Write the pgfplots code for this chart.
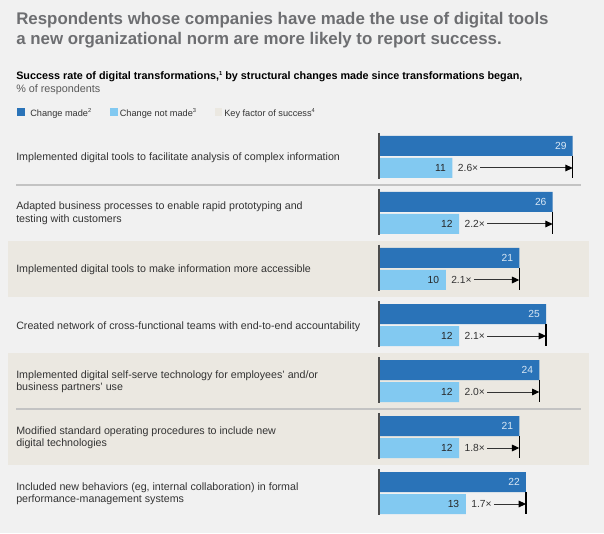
\documentclass[border=0pt]{standalone}
\usepackage{fontspec}
\setmainfont{Liberation Sans}
\usepackage{pgfplots}
\pgfplotsset{compat=1.18}
\usetikzlibrary{arrows.meta}
\definecolor{darkbar}{HTML}{2A73B8}
\definecolor{lightbar}{HTML}{82C9F1}
\definecolor{beige}{HTML}{EBE8E1}
\definecolor{bg}{HTML}{F1F1F1}
\definecolor{titlegray}{HTML}{6D6E71}
\definecolor{textgray}{HTML}{333333}
\definecolor{sepgray}{HTML}{C3C3C3}
\definecolor{valwhite}{HTML}{D9E8F5}
\newcommand\titlefont{\fontsize{12.65pt}{14pt}\selectfont\bfseries}
\newcommand\subfont{\fontsize{8.1pt}{10pt}\selectfont}
\newcommand\catfont{\fontsize{8pt}{10pt}\selectfont}
\newcommand\legfont{\fontsize{6.9pt}{8pt}\selectfont}
\newcommand\valfont{\fontsize{7.7pt}{9pt}\selectfont}
\newcommand\smallsup[1]{\raisebox{0.75ex}{\fontsize{4.3pt}{5pt}\selectfont #1}}
% #1 dark value, #2 light value, #3 light centre y, #4 ratio, #5 end-line top, #6 end-line bottom, #7 base top, #8 base bottom
\newcommand\rowann[8]{%
  \node[anchor=west, inner sep=0pt, font=\valfont, text=textgray] (rt#3) at ([xshift=3.9pt]axis cs:#2,#3) {#4};
  \draw[textgray, line width=0.75pt, -{Triangle[length=5.5pt,width=5pt,color=black]}] ([xshift=1.5pt]rt#3.east) -- (axis cs:#1,#3);
  \draw[black, line width=0.8pt] (axis cs:#1,#5) -- (axis cs:#1,#6);
  \draw[black!70, line width=0.8pt] (axis cs:0,#7) -- (axis cs:0,#8);
}
\begin{document}
\begin{tikzpicture}
\begin{scope}[shift={(0pt,399.75pt)}, x=0.75pt, y=-0.75pt]
  \fill[bg] (0,0) rectangle (604,533);
  \fill[beige] (8,241) rectangle (589,297);
  \fill[beige] (8,353) rectangle (589,465);
  \draw[sepgray, line width=1.1pt] (16,185) -- (581,185);
  \draw[sepgray, line width=1.1pt] (16,409) -- (581,409);
  % title
  \node[anchor=base west, inner sep=0pt, font=\titlefont, text=titlegray] at (16,25) {Respondents whose companies have made the use of digital tools};
  \node[anchor=base west, inner sep=0pt, font=\titlefont, text=titlegray] at (16,44.3) {a new organizational norm are more likely to report success.};
  \node[anchor=base west, inner sep=0pt, font=\subfont\bfseries, text=black] at (16,80) {Success rate of digital transformations,\smallsup{1} by structural changes made since transformations began,};
  \node[anchor=base west, inner sep=0pt, font=\subfont, text=black!65] at (16,92.3) {\% of respondents};
  % legend
  \fill[darkbar] (17,108) rectangle (25,116);
  \node[anchor=base west, inner sep=0pt, font=\legfont, text=textgray] at (30,116.5) {Change made\smallsup{2}};
  \fill[lightbar] (110,108) rectangle (117.5,116);
  \node[anchor=base west, inner sep=0pt, font=\legfont, text=textgray] at (119.5,116.5) {Change not made\smallsup{3}};
  \fill[beige] (215,108) rectangle (222,116);
  \node[anchor=base west, inner sep=0pt, font=\legfont, text=textgray] at (224,116.5) {Key factor of success\smallsup{4}};
  % categories
  \begin{scope}[every node/.style={anchor=base west, inner sep=0pt, font=\catfont, text=textgray}]
    \node at (16,161) {Implemented digital tools to facilitate analysis of complex information};
    \node at (16,210) {Adapted business processes to enable rapid prototyping and};
    \node at (16,222.5) {testing with customers};
    \node at (16,273) {Implemented digital tools to make information more accessible};
    \node at (16,329) {Created network of cross-functional teams with end-to-end accountability};
    \node at (16,378) {Implemented digital self-serve technology for employees’ and/or};
    \node at (16,390.5) {business partners’ use};
    \node at (16,434) {Modified standard operating procedures to include new};
    \node at (16,446.5) {digital technologies};
    \node at (16,490) {Included new behaviors (eg, internal collaboration) in formal};
    \node at (16,502.5) {performance-management systems};
  \end{scope}
\end{scope}
\begin{axis}[
  at={(0pt,0pt)}, anchor=south west,
  scale only axis, hide axis, clip=false,
  x=5.01pt, y=0.75pt,
  xmin=-56.737, xmax=33.683, ymin=0, ymax=533,
  /pgf/number format/assume math mode=true,
]
\addplot[xbar, bar width=20, bar shift=0pt, fill=darkbar, draw=none,
  point meta=x, nodes near coords,
  every node near coord/.append style={anchor=east, inner sep=0pt, xshift=-4.5pt, font=\valfont, text=valwhite}]
  coordinates {(29,387) (26,331) (21,275) (25,219) (24,163) (21,107) (22,51)};
\addplot[xbar, bar width=20, bar shift=0pt, fill=lightbar, draw=none,
  point meta=x, nodes near coords,
  every node near coord/.append style={anchor=east, inner sep=0pt, xshift=-4.8pt, font=\valfont, text=black!85}]
  coordinates {(11,365) (12,309) (10,253) (12,197) (12,141) (12,85) (13,29)};
\rowann{29}{11}{365}{2.6×}{377}{355}{400}{354}
\rowann{26}{12}{309}{2.2×}{321}{299}{344}{298}
\rowann{21}{10}{253}{2.1×}{265}{243}{288}{242}
\rowann{25}{12}{197}{2.1×}{209}{187}{232}{186}
\rowann{24}{12}{141}{2.0×}{153}{131}{176}{130}
\rowann{21}{12}{85}{1.8×}{97}{75}{120}{74}
\rowann{22}{13}{29}{1.7×}{41}{19}{64}{18}
\end{axis}
\end{tikzpicture}
\end{document}
